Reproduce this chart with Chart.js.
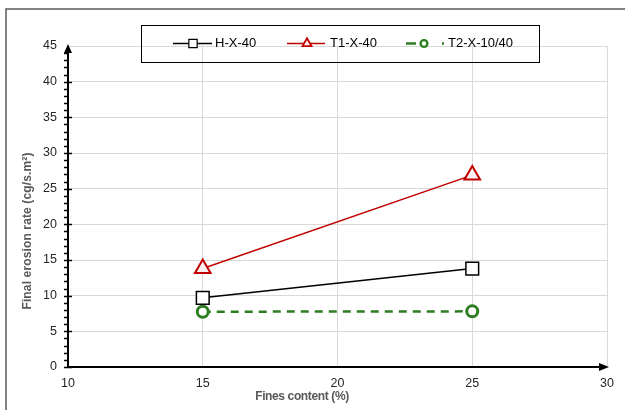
<!DOCTYPE html>
<html>
<head>
<meta charset="utf-8">
<script src="https://cdn.jsdelivr.net/npm/chart.js@4.4.0/dist/chart.umd.min.js"></script>
<style>
  html, body { margin: 0; padding: 0; background: #fff; }
  #wrap { position: relative; width: 625px; height: 410px; }
</style>
</head>
<body>
<div id="wrap"><canvas id="erosionChart" width="625" height="410"></canvas></div>
<script>
// Final erosion rate vs fines content

const finesContent = [15, 25];
const seriesNames = ['H-X-40', 'T1-X-40', 'T2-X-10/40'];
const hX40 = [9.7, 13.8];
const t1X40 = [13.8, 26.9];
const t2X1040 = [7.75, 7.8];
const xTicks = [10, 15, 20, 25, 30];
const yTicks = [0, 5, 10, 15, 20, 25, 30, 35, 40, 45];
const xTitle = 'Fines content (%)';
const yTitle = 'Final erosion rate (cg/s.m²)';

const FONT = 'Liberation Sans, Arial, sans-serif';

function points(values) {
    return finesContent.map((x, i) => ({ x: x, y: values[i] }));
}

// fit a string to a given width with letter spacing
function fitText(ctx, text, width) {
    ctx.letterSpacing = '0px';
    const w = ctx.measureText(text).width;
    ctx.letterSpacing = ((width - w) / (text.length - 1)) + 'px';
}

const decor = {
    id: 'decor',
    beforeDraw(chart) {
        const ctx = chart.ctx;
        ctx.save();
        ctx.fillStyle = '#fff';
        ctx.fillRect(0, 0, chart.width, chart.height);
        // outer frame (only top and left visible)
        ctx.strokeStyle = '#595959';
        ctx.lineWidth = 1.5;
        ctx.beginPath();
        ctx.moveTo(6, chart.height + 2);
        ctx.lineTo(6, 9);
        ctx.lineTo(chart.width + 2, 9);
        ctx.stroke();
        ctx.restore();
    },
    beforeDatasetsDraw(chart) {
        const ctx = chart.ctx;
        const xs = chart.scales.x, ys = chart.scales.y;
        const x0 = xs.getPixelForValue(xTicks[0]);
        const x1 = xs.getPixelForValue(xTicks[xTicks.length - 1]);
        const y0 = ys.getPixelForValue(yTicks[0]);
        const y1 = ys.getPixelForValue(yTicks[yTicks.length - 1]);
        ctx.save();
        ctx.strokeStyle = '#000';
        ctx.fillStyle = '#000';

        // minor + major ticks on y
        ctx.lineWidth = 1.5;
        ctx.beginPath();
        for (let v = yTicks[0]; v < yTicks[yTicks.length - 1]; v++) {
            const y = Math.round(ys.getPixelForValue(v)) + 0.5;
            const major = v % 5 === 0;
            ctx.moveTo(x0 - 4, y);
            ctx.lineTo(major ? x0 + 4 : x0, y);
        }
        ctx.stroke();

        // axis lines
        ctx.lineWidth = 2;
        ctx.beginPath();
        ctx.moveTo(x0, y0);
        ctx.lineTo(x0, y1 + 6);
        ctx.moveTo(x0 - 1, y0);
        ctx.lineTo(x1 - 6, y0);
        ctx.stroke();

        // arrow heads
        ctx.beginPath();
        ctx.moveTo(x0, y1 - 2);
        ctx.lineTo(x0 - 4, y1 + 7);
        ctx.lineTo(x0 + 4, y1 + 7);
        ctx.closePath();
        ctx.moveTo(x1 + 2, y0);
        ctx.lineTo(x1 - 8, y0 - 4);
        ctx.lineTo(x1 - 8, y0 + 4);
        ctx.closePath();
        ctx.fill();
        ctx.restore();
    },
    afterDraw(chart) {
        const ctx = chart.ctx;
        ctx.save();

        // axis titles
        ctx.fillStyle = '#595959';
        ctx.font = 'bold 12px ' + FONT;
        ctx.textAlign = 'center';
        ctx.textBaseline = 'middle';
        fitText(ctx, xTitle, 94);
        ctx.fillText(xTitle, 302, 397);
        ctx.translate(28, 231);
        ctx.rotate(-Math.PI / 2);
        fitText(ctx, yTitle, 157);
        ctx.fillText(yTitle, 0, 0);
        ctx.setTransform(1, 0, 0, 1, 0, 0);
        ctx.letterSpacing = '0px';

        // legend
        ctx.strokeStyle = '#000';
        ctx.lineWidth = 1;
        ctx.strokeRect(141.5, 25.5, 398, 37);

        const items = [
            { x1: 173, x2: 212, mx: 193, tx: 215, r: 5.9, bw: 1.2 },
            { x1: 287, x2: 325, mx: 307, tx: 330, r: 5.2, bw: 1.8 },
            { x1: 406, x2: 445, mx: 424, tx: 448, r: 3.4, bw: 2.4 }
        ];
        const ly = 43.5;
        items.forEach((it, i) => {
            const ds = chart.data.datasets[i];
            ctx.save();
            ctx.strokeStyle = ds.borderColor;
            ctx.lineWidth = i === 2 ? 2.5 : 1.5;
            if (i === 2) ctx.setLineDash([10, 26, 2, 100]);
            ctx.beginPath();
            ctx.moveTo(it.x1, ly);
            ctx.lineTo(it.x2, ly);
            ctx.stroke();
            ctx.restore();
            ctx.save();
            ctx.fillStyle = ds.pointBackgroundColor;
            ctx.strokeStyle = ds.pointBorderColor;
            ctx.lineWidth = it.bw;
            Chart.helpers.drawPoint(ctx, {
                pointStyle: ds.pointStyle,
                radius: it.r,
                rotation: 0,
                borderWidth: it.bw
            }, it.mx, ly);
            ctx.restore();
            ctx.fillStyle = '#000';
            ctx.font = '13px ' + FONT;
            ctx.textAlign = 'left';
            ctx.textBaseline = 'middle';
            ctx.fillText(seriesNames[i], it.tx, ly);
        });
        ctx.restore();
    }
};

const erosionCtx = document.getElementById('erosionChart').getContext('2d');
new Chart(erosionCtx, {
    type: 'scatter',
    data: {
        datasets: [{
            label: seriesNames[0],
            data: points(hX40),
            showLine: true,
            borderColor: '#000000',
            borderWidth: 1.5,
            pointStyle: 'rect',
            pointRadius: 9,
            pointBorderWidth: 1.5,
            pointBackgroundColor: '#ffffff',
            pointBorderColor: '#000000'
        }, {
            label: seriesNames[1],
            data: points(t1X40),
            showLine: true,
            borderColor: '#c00000',
            borderWidth: 1.5,
            pointStyle: 'triangle',
            pointRadius: 9,
            pointBorderWidth: 2,
            pointBackgroundColor: '#fdf0f0',
            pointBorderColor: '#c00000'
        }, {
            label: seriesNames[2],
            data: points(t2X1040),
            showLine: true,
            borderColor: '#2e7d22',
            borderWidth: 2.5,
            borderDash: [8, 6],
            pointStyle: 'circle',
            pointRadius: 5.5,
            pointBorderWidth: 3,
            pointBackgroundColor: '#ffffff',
            pointBorderColor: '#2e7d22'
        }]
    },
    options: {
        responsive: false,
        animation: false,
        layout: {
            padding: { left: 0, right: 18, top: 46, bottom: 0 }
        },
        plugins: {
            legend: { display: false },
            tooltip: { enabled: false }
        },
        scales: {
            x: {
                type: 'linear',
                min: xTicks[0],
                max: xTicks[xTicks.length - 1],
                afterBuildTicks: s => { s.ticks = xTicks.map(v => ({ value: v })); },
                afterFit: s => { s.height = 43; },
                grid: { color: '#d9d9d9', lineWidth: 1, drawTicks: false },
                border: { display: false },
                ticks: {
                    color: '#262626',
                    font: { family: FONT, size: 12.5 },
                    padding: 9,
                    maxRotation: 0
                }
            },
            y: {
                type: 'linear',
                min: yTicks[0],
                max: yTicks[yTicks.length - 1],
                afterBuildTicks: s => { s.ticks = yTicks.map(v => ({ value: v })); },
                afterFit: s => { s.width = 68; },
                grid: { color: '#d9d9d9', lineWidth: 1, drawTicks: false },
                border: { display: false },
                ticks: {
                    color: '#262626',
                    font: { family: FONT, size: 12.5 },
                    padding: 11
                }
            }
        }
    },
    plugins: [decor]
});
</script>
</body>
</html>
